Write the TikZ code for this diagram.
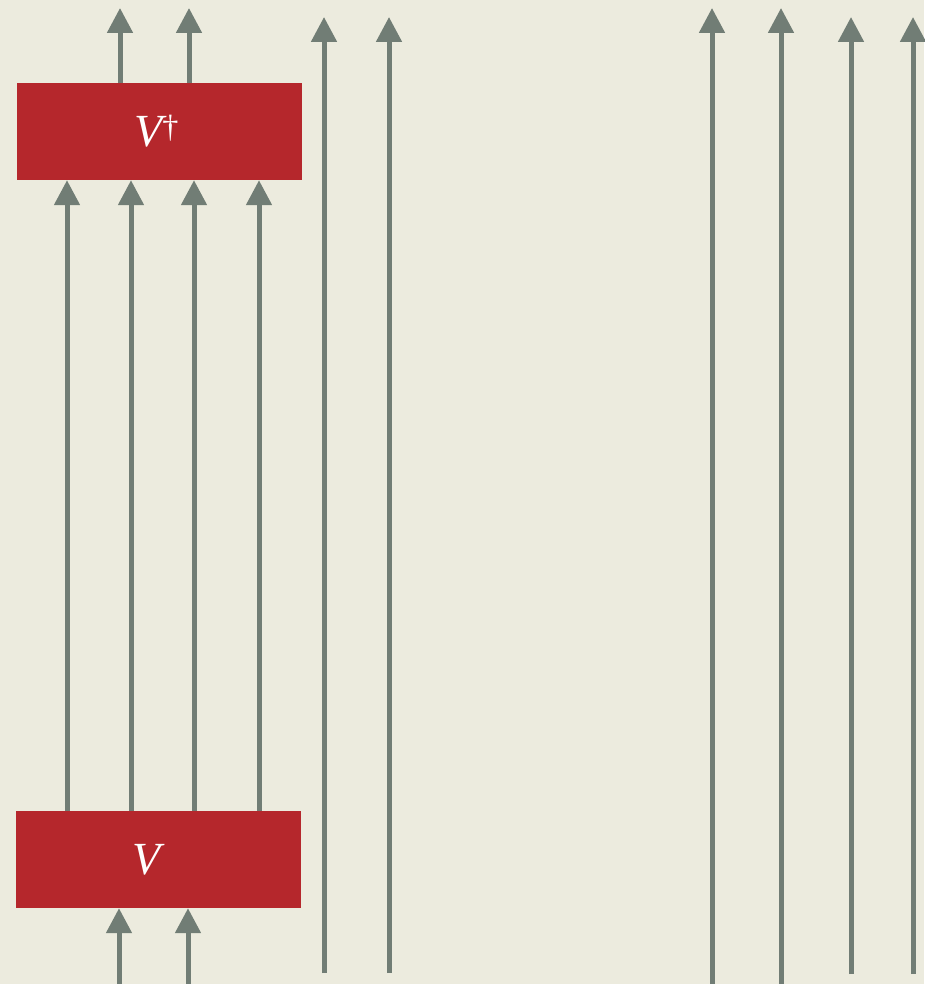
\documentclass[tikz,border=0pt]{standalone}
\usepackage{fontspec}
\setmainfont{Liberation Serif}
\usepackage{xcolor}
\definecolor{paper}{RGB}{236,235,222}
\definecolor{slate}{RGB}{113,125,117}
\definecolor{brick}{RGB}{181,39,44}
\usepackage{tikz}
\usetikzlibrary{arrows.meta,positioning}
\tikzset{
  wire/.style={draw=slate, line width=5pt,
               -{Triangle[length=25pt,width=25pt]}},
  gate/.style={fill=brick, draw=none, minimum width=285pt,
               minimum height=97pt, inner sep=0pt,
               text=white, font=\fontsize{46}{50}\selectfont\itshape},
}

\begin{document}
\begin{tikzpicture}[x=1pt,y=-1pt]
\fill[paper] (0,0) rectangle (924,984);
\useasboundingbox (0,0) rectangle (924,984);

% the two gates
\node[gate] (V)  at (158.5,859.5) {V\hspace*{24pt}\null};
\node[gate] (Vd) at (159.5,131.5)
  {\raisebox{-6pt}{V\textsuperscript{\upshape †}}\hspace*{6pt}\null};

% free ends
\coordinate (bot) at (0,984);
\coordinate (top) at (0,8);

% inputs and outputs of the pair
\foreach \x in {119,188}
  \draw[wire] (\x,0 |- bot) -- (\x,0 |- V.south);
\foreach \x in {120,189}
  \draw[wire] (\x,0 |- Vd.north) -- (\x,0 |- top);

% wires between V and V dagger
\foreach \x in {67,131,194,259}
  \draw[wire] (\x,0 |- V.north) -- (\x,0 |- Vd.south);

% idle wires
\foreach \x/\a/\b in {324/973/17, 389/973/17, 712/984/8,
                      781/984/8, 851/974/17, 913/974/17}{
  \coordinate (s\x) at (\x,\a);
  \coordinate (e\x) at (\x,\b);
  \draw[wire] (s\x) -- (e\x);
}
\end{tikzpicture}
\end{document}
